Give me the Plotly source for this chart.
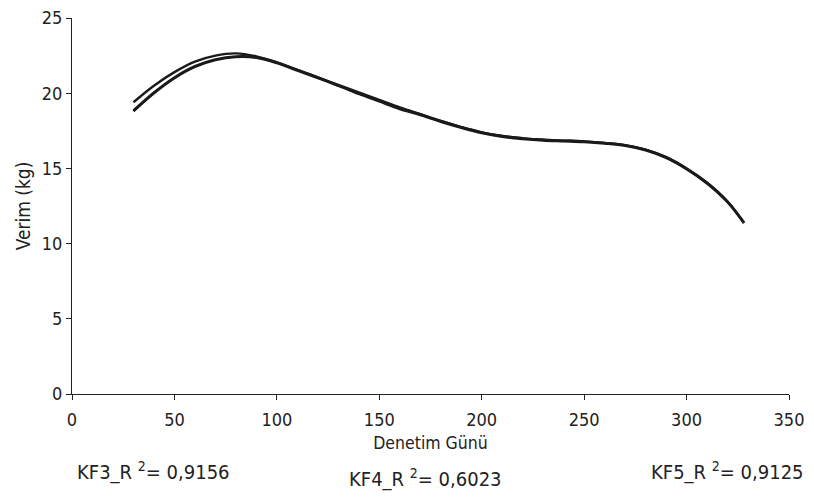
import plotly.graph_objects as go

days = [30, 40, 50, 60, 70, 80, 90, 100, 110, 120, 130, 140, 150, 160, 170, 180,
        190, 200, 210, 220, 230, 240, 250, 260, 270, 280, 290, 300, 310, 320, 328]

kf3 = [19.4, 20.5, 21.4, 22.1, 22.5, 22.65, 22.45, 22.05, 21.55, 21.05, 20.55, 20.05,
       19.55, 19.05, 18.6, 18.15, 17.75, 17.4, 17.15, 17.0, 16.9, 16.85, 16.8, 16.7,
       16.55, 16.25, 15.75, 15.0, 14.05, 12.8, 11.4]
kf4 = [18.8, 20.0, 21.0, 21.75, 22.2, 22.4, 22.35, 22.0, 21.5, 21.0, 20.5, 19.95,
       19.45, 18.95, 18.55, 18.1, 17.7, 17.35, 17.1, 16.95, 16.85, 16.8, 16.75, 16.65,
       16.5, 16.2, 15.7, 14.95, 14.0, 12.75, 11.35]
kf5 = [18.85, 20.05, 21.05, 21.8, 22.25, 22.45, 22.4, 22.05, 21.55, 21.05, 20.5, 20.0,
       19.5, 19.0, 18.6, 18.15, 17.75, 17.4, 17.15, 17.0, 16.9, 16.85, 16.8, 16.7,
       16.55, 16.25, 15.75, 15.0, 14.05, 12.8, 11.4]

series = [("KF3", kf3), ("KF4", kf4), ("KF5", kf5)]
r2_labels = ["KF3_R <sup>2</sup>= 0,9156", "KF4_R <sup>2</sup>= 0,6023", "KF5_R <sup>2</sup>= 0,9125"]

x_ticks = [0, 50, 100, 150, 200, 250, 300, 350]
y_ticks = [0, 5, 10, 15, 20, 25]

COND = "DejaVu Sans Condensed, sans-serif"

# page has an 8px body margin; figure is sized so that the page is 814x499
W, H = 798, 483
OFF = 8
PL, PR, PT, PB = 72, 789, 18, 394  # plot area in page pixels

fig = go.Figure()
for name, vals in series:
    fig.add_trace(go.Scatter(x=days, y=vals, mode="lines", name=name,
                             line=dict(color="#1a1a1a", width=2.4, shape="spline", smoothing=1.0),
                             showlegend=False))

fig.update_layout(
    width=W, height=H,
    margin=dict(l=PL - OFF, r=W - (PR - OFF), t=PT - OFF, b=H - (PB - OFF)),
    paper_bgcolor="white", plot_bgcolor="white",
    font=dict(family=COND, size=16, color="#222"),
    xaxis=dict(range=[0, 350], tickvals=x_ticks, showgrid=False, zeroline=False,
               showline=True, linecolor="#222", linewidth=1, ticks="outside",
               ticklen=5, tickcolor="#222", automargin=False, ticklabeloverflow="allow",
               ticklabelstandoff=4,
               tickfont=dict(family=COND, size=18),
               title=dict(text="Denetim Günü", font=dict(family=COND, size=17.5), standoff=8)),
    yaxis=dict(range=[0, 25], tickvals=y_ticks, showgrid=False, zeroline=False,
               showline=True, linecolor="#222", linewidth=1, ticks="outside",
               ticklen=5, tickcolor="#222", automargin=False, ticklabeloverflow="allow",
               tickfont=dict(family=COND, size=18),
               title=dict(text="Verim (kg)", font=dict(family=COND, size=19), standoff=6)),
)

plot_w = PR - PL
plot_h = PB - PT
ann_pos = [(75, 471), (347, 478), (649, 471)]
for (xp, yp), txt in zip(ann_pos, r2_labels):
    fig.add_annotation(text=txt, xref="paper", yref="paper",
                       x=(xp - PL) / plot_w, y=(PB - yp) / plot_h,
                       xanchor="left", yanchor="middle",
                       showarrow=False, font=dict(family=COND, size=20))

fig.write_html("out.html")
